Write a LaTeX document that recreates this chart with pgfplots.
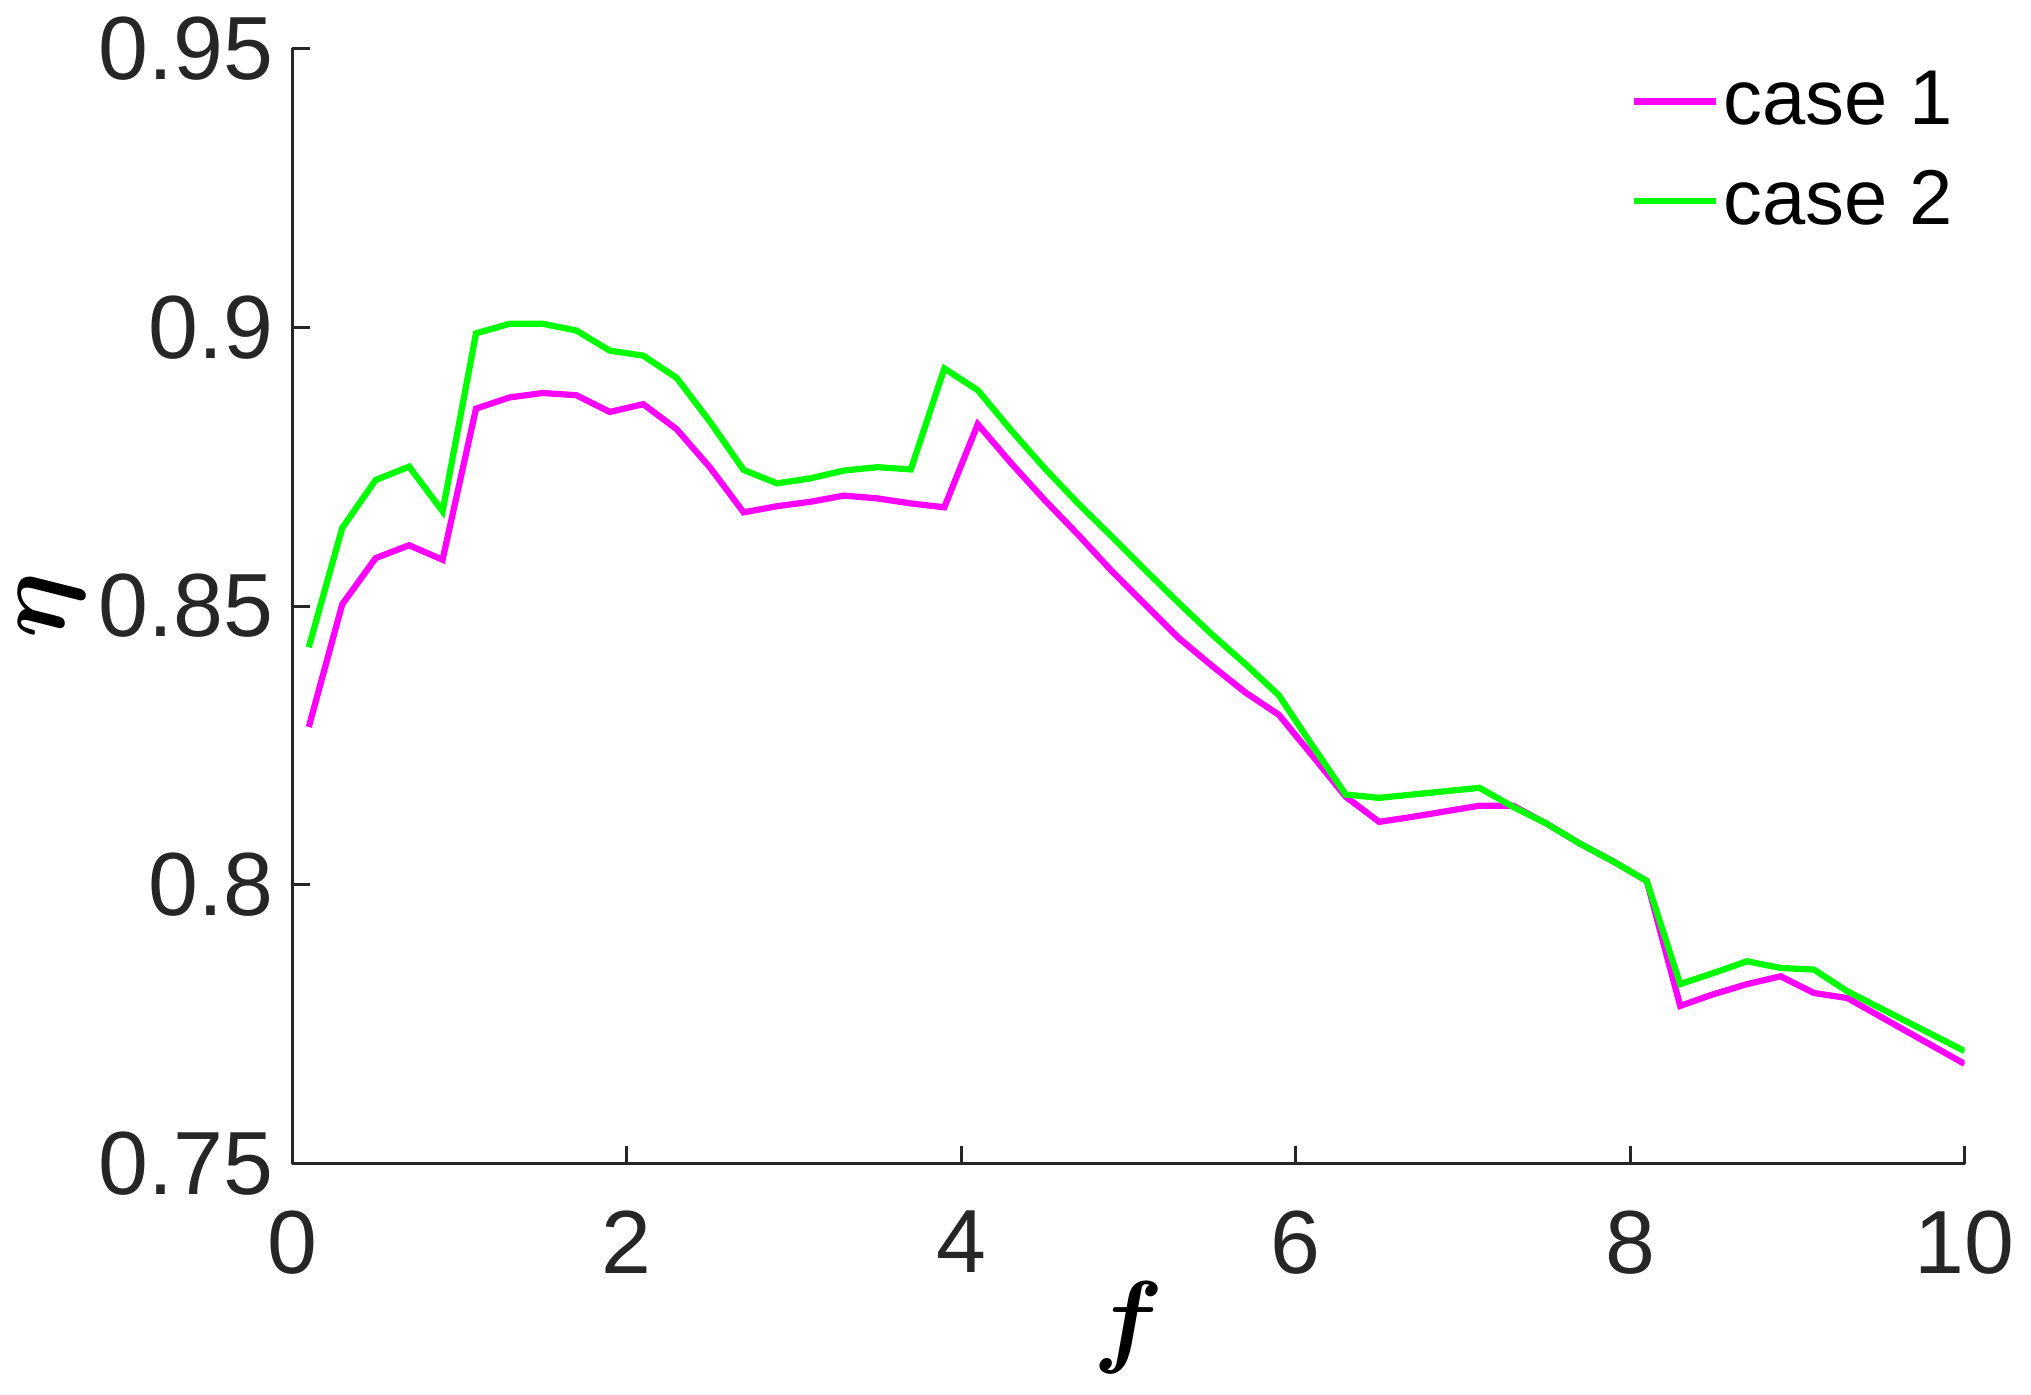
\documentclass[border=0pt]{standalone}
\usepackage{pgfplots}
\pgfplotsset{compat=1.18}
\usepackage{fontspec}
\setmainfont{Liberation Sans}
\definecolor{axgray}{RGB}{38,38,38}
\definecolor{cmag}{RGB}{255,0,255}
\definecolor{cgreen}{RGB}{0,255,0}

\pgfplotstableread{
x     c1      c2
0.1   0.8283  0.8426
0.3   0.8503  0.8640
0.5   0.8586  0.8726
0.7   0.8609  0.8750
0.9   0.8583  0.8670
1.1   0.8854  0.8989
1.3   0.8874  0.9006
1.5   0.8882  0.9006
1.7   0.8878  0.8994
1.9   0.8848  0.8958
2.1   0.8862  0.8949
2.3   0.8817  0.8909
2.5   0.8748  0.8830
2.7   0.8668  0.8744
2.9   0.8679  0.8720
3.1   0.8687  0.8729
3.3   0.8698  0.8743
3.5   0.8693  0.8749
3.7   0.8684  0.8745
3.9   0.8677  0.8926
4.1   0.8826  0.8887
4.3   0.8756  0.8815
4.5   0.8690  0.8747
4.7   0.8628  0.8684
4.9   0.8563  0.8625
5.1   0.8503  0.8565
5.3   0.8443  0.8506
5.5   0.8393  0.8449
5.7   0.8345  0.8396
5.9   0.8305  0.8340
6.1   0.8232  0.8250
6.3   0.8158  0.8162
6.5   0.8113  0.8156
6.7   0.8122  0.8162
6.9   0.8132  0.8168
7.1   0.8142  0.8174
7.3   0.8142  0.8140
7.5   0.8110  0.8110
7.7   0.8074  0.8074
7.9   0.8042  0.8042
8.1   0.8007  0.8007
8.3   0.7783  0.7822
8.5   0.7804  0.7842
8.7   0.7822  0.7863
8.9   0.7836  0.7851
9.1   0.7806  0.7848
9.3   0.7797  0.7809
10.0  0.7679  0.7702
}\effdata

\begin{document}
\begin{tikzpicture}
\begin{axis}[
    scale only axis,
    width=335.6pt, height=223.8pt,
    xmin=0, xmax=10, ymin=0.75, ymax=0.95,
    xtick={0,2,4,6,8,10},
    ytick={0.75,0.8,0.85,0.9,0.95},
    yticklabels={0.75,0.8,0.85,0.9,0.95},
    axis x line*=bottom, axis y line*=left,
    axis line style={axgray, line width=0.6pt, -},
    tick align=inside,
    major tick length=3.6pt,
    tick style={axgray, line width=0.6pt},
    every tick label/.append style={text=axgray, font=\fontsize{18}{21}\selectfont},
    /pgf/number format/assume math mode=true,
    xticklabel style={yshift=-6pt},
    yticklabel style={xshift=-0.3pt},
    xlabel={$f$},
    ylabel={$\eta$},
    label style={font=\fontsize{22}{24}\selectfont\boldmath, inner sep=0pt},
    xlabel style={at={(axis description cs:0.5,-0.147)}, anchor=center},
    ylabel style={at={(axis description cs:-0.1439,0.5)}, anchor=center},
    legend style={at={(axis description cs:0.7998,0.985)}, anchor=north west,
        draw=none, fill=none, inner sep=0pt,
        nodes={inner sep=1pt},
        row sep=5.6pt,
        font=\fontsize{15.6}{18}\selectfont},
    legend cell align=left,
    legend image code/.code={\draw[#1] (0pt,0pt) -- (16.4pt,0pt);},
]
\addplot[cmag, line width=1.25pt] table[x=x, y=c1] {\effdata};
\addlegendentry{case 1}
\addplot[cgreen, line width=1.25pt] table[x=x, y=c2] {\effdata};
\addlegendentry{case 2}
\end{axis}
\path ([shift={(-58.6pt,-46.4pt)}]current axis.south west) rectangle ([shift={(12pt,8.8pt)}]current axis.north east);
\end{tikzpicture}
\end{document}
